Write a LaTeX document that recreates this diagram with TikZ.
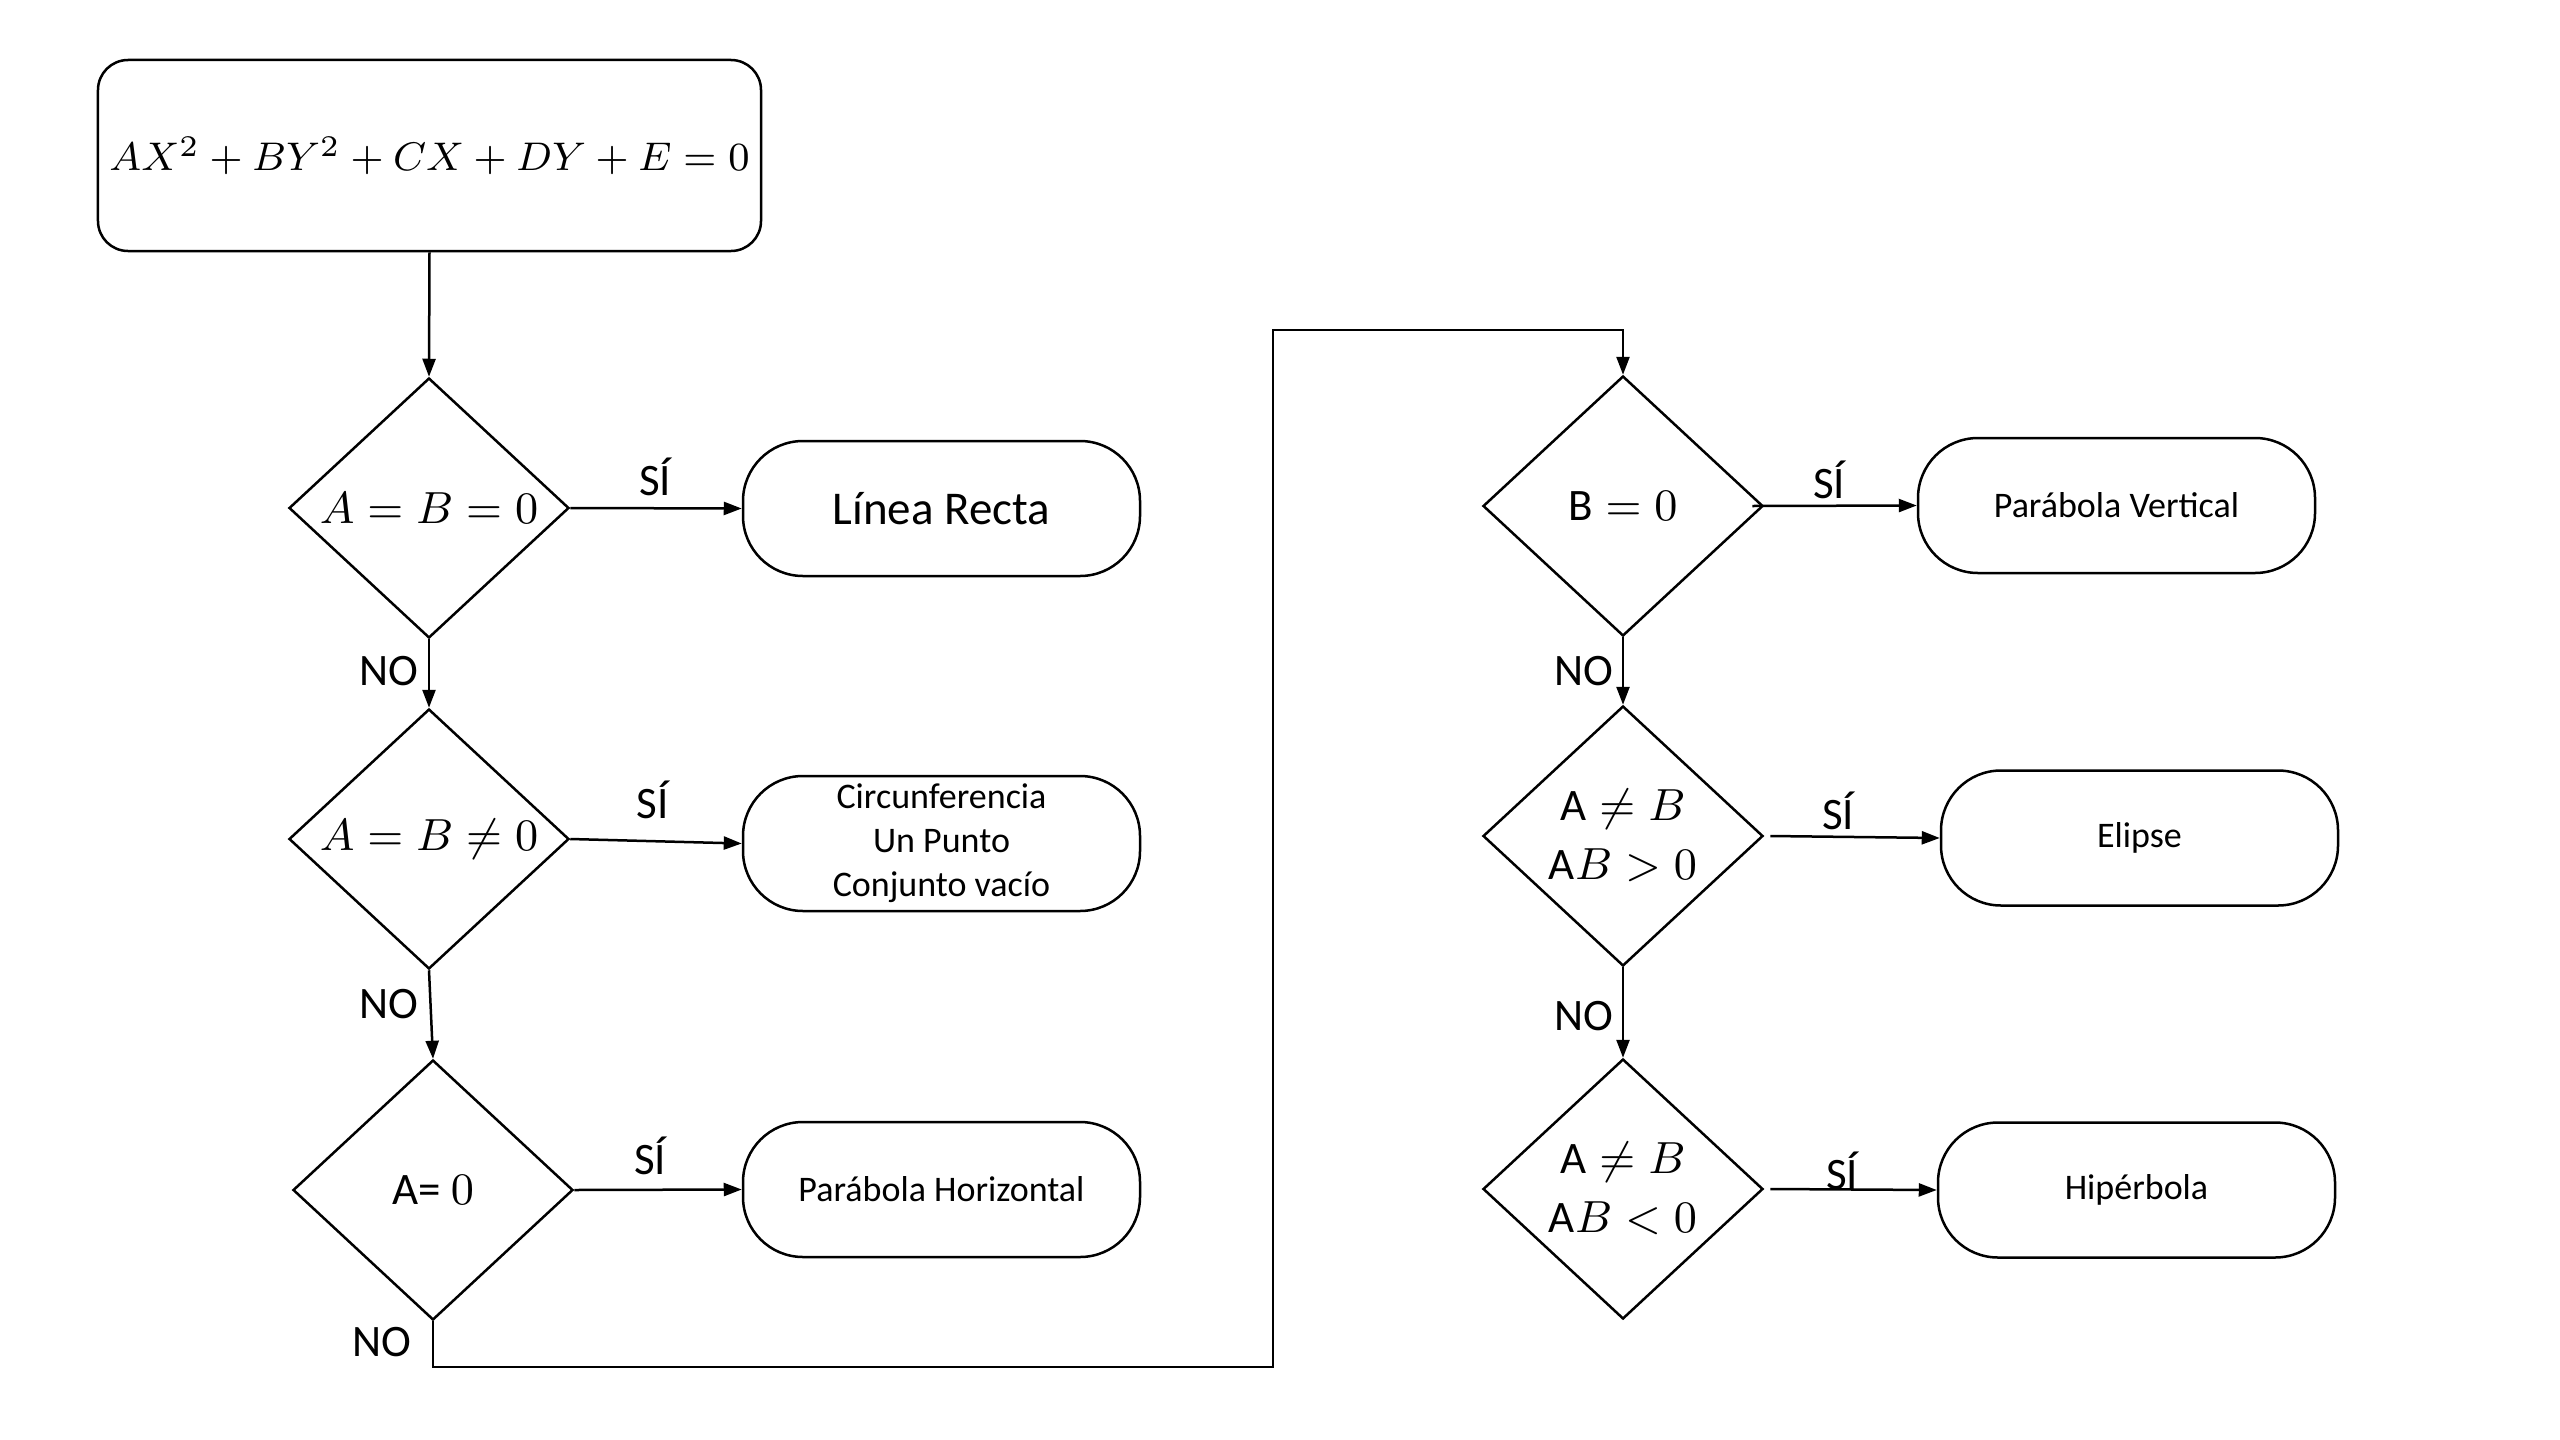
\documentclass[tikz,border=0pt]{standalone}
\usepackage{fontspec}
\setmainfont{Carlito}
\usetikzlibrary{shapes.geometric,arrows.meta}
\begin{document}
\begin{tikzpicture}[x=0.2pt,y=-0.2pt, line width=0.5pt,
  dec/.style={diamond, draw, inner sep=0pt, minimum width=56pt, minimum height=52pt, align=center, font=\fontsize{9}{11.8}\selectfont},
  term/.style={draw, rounded corners=12pt, minimum width=79.4pt, minimum height=27pt, inner sep=0pt, align=center, font=\fontsize{7.2}{8.8}\selectfont},
  startbox/.style={draw, rounded corners=6pt, minimum width=132.6pt, minimum height=38.2pt, inner sep=0pt, font=\fontsize{8}{10}\selectfont},
  arr/.style={-{Triangle[length=3.6pt,width=2.6pt]}},
  lbl/.style={font=\fontsize{9}{11}\selectfont, inner sep=0pt}]
\useasboundingbox (0,0) rectangle (2560,1440);
\fill[white] (0,0) rectangle (2560,1440);

\node[startbox] (eq) at (429.5,155.5) {$AX^2+BY^2+CX+DY+E=0$};

\node[dec] (d1) at (429,508) {$A=B=0$};
\node[dec] (d2) at (429,839) {$A=B\neq 0$};
\node[dec] (d3) at (433,1190) {A= $0$};
\node[dec] (d4) at (1623,506) {$\mathrm{B}=0$};
\node[dec] (d5) at (1623,836) {$\mbox{A}\neq B$\\$\mbox{A}B>0$};
\node[dec] (d6) at (1623,1189) {$\mbox{A}\neq B$\\$\mbox{A}B<0$};

\node[term, font=\fontsize{9.4}{11}\selectfont] (t1) at (941.5,508.5) {Línea Recta};
\node[term] (t2) at (941.5,843.5) {Circunferencia\\Un Punto\\Conjunto vacío};
\node[term] (t3) at (941.5,1189.5) {Parábola Horizontal};
\node[term] (t4) at (2116.5,505.5) {Parábola Vertical};
\node[term] (t5) at (2139.5,838) {Elipse};
\node[term] (t6) at (2136.5,1190) {Hipérbola};

\coordinate (lowR) at (1273,1367);
\coordinate (upR) at (1273,330);

\draw[arr] (eq.south) -- (d1.north);
\draw[arr] (d1.south) -- (d2.north);
\draw[arr] (d2.south) -- (d3.north);
\draw[arr] (d3.south) |- (lowR) -- (upR) -| (d4.north);
\draw[arr] (d4.south) -- (d5.north);
\draw[arr] (d5.south) -- (d6.north);

\draw[arr] (d1.east) -- (t1.west);
\draw[arr] (d2.east) -- (t2.west);
\draw[arr] (d3.east) -- (t3.west);
\draw[arr] ([xshift=-2.4pt]d4.east) -- (t4.west);
\draw[arr] ([xshift=1.2pt]d5.east) -- (t5.west);
\draw[arr] ([xshift=1.2pt]d6.east) -- (t6.west);

\node[lbl] (no1) at (389,671) {NO};
\node[lbl] (no2) at (389,1004) {NO};
\node[lbl] (no3) at (382,1342) {NO};
\node[lbl] (no4) at (1584,671) {NO};
\node[lbl] (no5) at (1584,1016) {NO};

\node[lbl] (si1) at (655,477) {SÍ};
\node[lbl] (si2) at (653,800) {SÍ};
\node[lbl] (si3) at (650,1156) {SÍ};
\node[lbl] (si4) at (1829,480) {SÍ};
\node[lbl] (si5) at (1838,811) {SÍ};
\node[lbl] (si6) at (1842,1171) {SÍ};
\end{tikzpicture}
\end{document}
